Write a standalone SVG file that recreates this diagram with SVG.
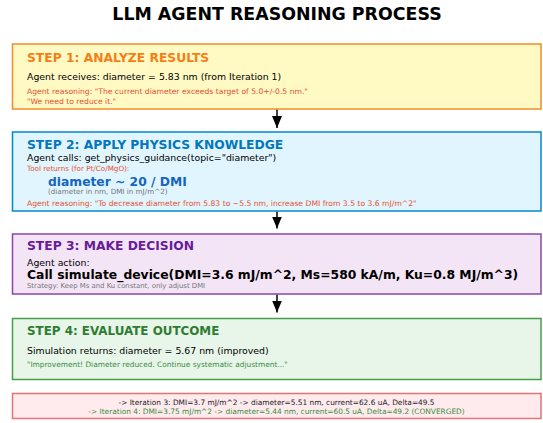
<svg xmlns="http://www.w3.org/2000/svg" width="543" height="423" viewBox="0 0 543 423">
<style>
text{font-family:"DejaVu Sans","Liberation Sans",sans-serif}
.title{font-size:17.4px;font-weight:bold;fill:#000;text-anchor:middle}
.hdr{font-size:12.3px;font-weight:bold}
.body{font-size:9.35px;fill:#000}
.red{font-size:7.65px;fill:#E65132}
.gray{font-size:7.2px;fill:#757575}
.small{font-size:7.4px;text-anchor:middle}
.box{stroke-width:1.5}
.conn{stroke:#000;stroke-width:1.5;fill:none}
</style>
<defs>
<marker id="ah" viewBox="0 0 12 10" refX="12" refY="5" markerWidth="12" markerHeight="10" markerUnits="userSpaceOnUse" orient="auto">
<path d="M0,0 L12,5 L0,10 z" fill="#000"/>
</marker>
</defs>
<rect width="543" height="423" fill="#fff"/>
<text class="title" x="277" y="20">LLM AGENT REASONING PROCESS</text>

<g id="step1">
<rect class="box" x="12.5" y="44" width="528.5" height="65" fill="#FFF9C4" stroke="#F28C28"/>
<text class="hdr" x="27" y="62" fill="#F57F17">STEP 1: ANALYZE RESULTS</text>
<text class="body" x="27" y="80">Agent receives: diameter = 5.83 nm (from Iteration 1)</text>
<text class="red" x="27" y="94">Agent reasoning: "The current diameter exceeds target of 5.0+/-0.5 nm."</text>
<text class="red" x="27" y="104">"We need to reduce it."</text>
</g>

<g id="step2">
<rect class="box" x="12.5" y="132" width="528.5" height="79" fill="#E1F5FE" stroke="#0288D1"/>
<text class="hdr" x="27" y="149" fill="#0277BD">STEP 2: APPLY PHYSICS KNOWLEDGE</text>
<text class="body" x="27" y="161.3">Agent calls: get_physics_guidance(topic="diameter")</text>
<text class="red" x="27" y="170.7" style="font-size:7.2px">Tool returns (for Pt/Co/MgO):</text>
<text x="48" y="185.6" style="font-size:12.3px;font-weight:bold;fill:#1565C0">diameter ~ 20 / DMI</text>
<text class="gray" x="48" y="194.3">(diameter in nm, DMI in mJ/m^2)</text>
<text class="red" x="27" y="205.7">Agent reasoning: "To decrease diameter from 5.83 to ~5.5 nm, increase DMI from 3.5 to 3.6 mJ/m^2"</text>
</g>

<g id="step3">
<rect class="box" x="12.5" y="234" width="528.5" height="60" fill="#F3E5F5" stroke="#8E44AD"/>
<text class="hdr" x="27" y="250.3" fill="#6A1B9A">STEP 3: MAKE DECISION</text>
<text class="body" x="27" y="265.7">Agent action:</text>
<text x="27" y="278.7" style="font-size:12.35px;font-weight:bold;fill:#000">Call simulate_device(DMI=3.6 mJ/m^2, Ms=580 kA/m, Ku=0.8 MJ/m^3)</text>
<text class="gray" x="27" y="288" style="font-size:6.9px">Strategy: Keep Ms and Ku constant, only adjust DMI</text>
</g>

<g id="step4">
<rect class="box" x="12.5" y="318.5" width="528.5" height="61" fill="#E8F5E9" stroke="#43A047"/>
<text class="hdr" x="27" y="335.3" fill="#2E7D32" style="font-size:11.9px">STEP 4: EVALUATE OUTCOME</text>
<text class="body" x="27" y="354.3">Simulation returns: diameter = 5.67 nm (improved)</text>
<text x="27" y="366.7" style="font-size:7.4px;fill:#388E3C">"Improvement! Diameter reduced. Continue systematic adjustment..."</text>
</g>

<g id="summary">
<rect class="box" x="12.5" y="393.5" width="528.5" height="25" fill="#FFEBEE" stroke="#E57373"/>
<text class="small" x="276.5" y="405.3" fill="#222">-&gt; Iteration 3: DMI=3.7 mJ/m^2 -&gt; diameter=5.51 nm, current=62.6 uA, Delta=49.5</text>
<text class="small" x="276.5" y="413.7" fill="#388E3C">-&gt; Iteration 4: DMI=3.75 mJ/m^2 -&gt; diameter=5.44 nm, current=60.5 uA, Delta=49.2 (CONVERGED)</text>
</g>

<g id="connectors">
<line class="conn" x1="277" y1="109.8" x2="277" y2="128" marker-end="url(#ah)"/>
<line class="conn" x1="277" y1="211.8" x2="277" y2="228.5" marker-end="url(#ah)"/>
<line class="conn" x1="277" y1="294.8" x2="277" y2="312.5" marker-end="url(#ah)"/>
</g>
</svg>
